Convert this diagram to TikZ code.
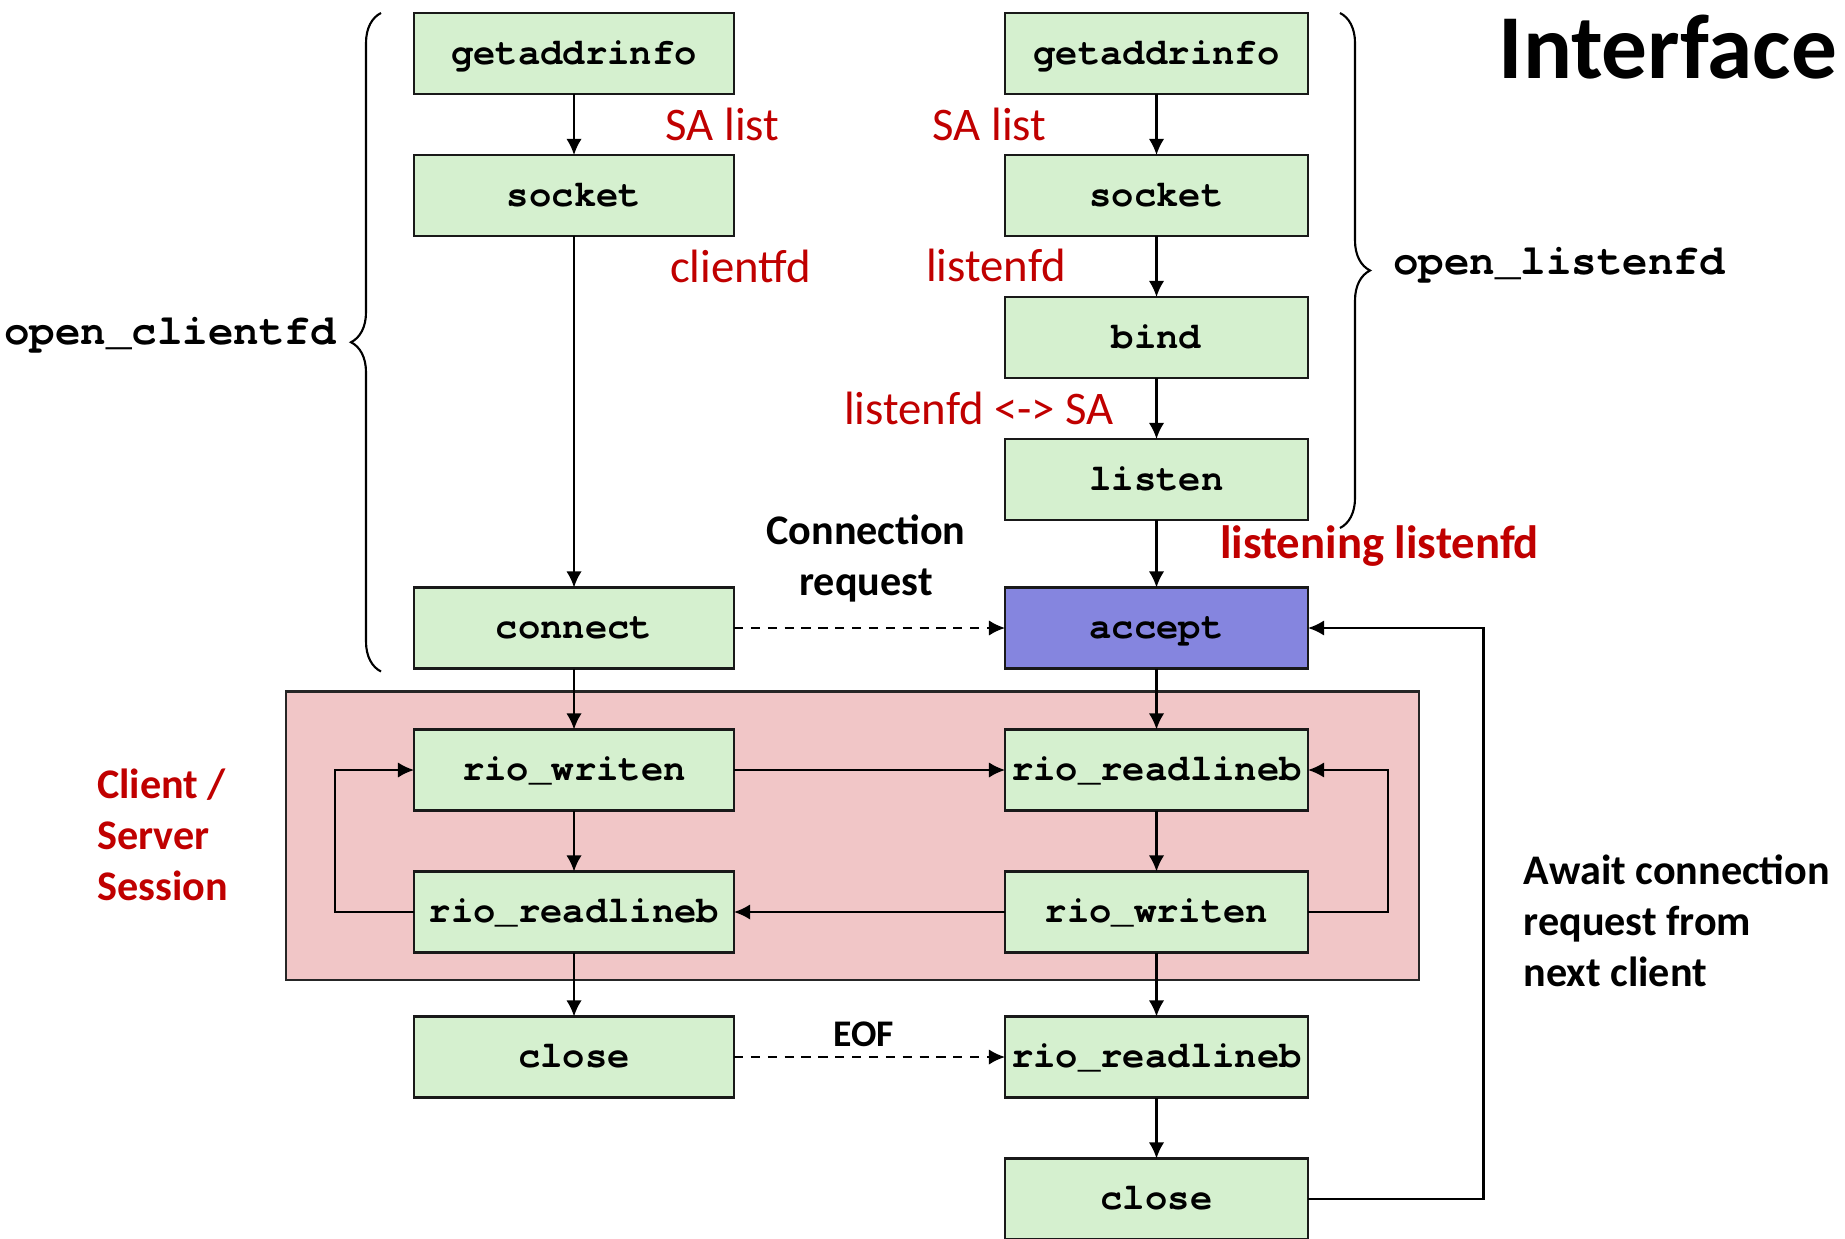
\documentclass[tikz,border=0pt]{standalone}
\usepackage{fontspec}
\setmainfont{Carlito}
\newfontfamily\codefont{texgyrecursor-bold.otf}
\usetikzlibrary{positioning,arrows.meta,decorations.pathreplacing}
\definecolor{callgreen}{HTML}{D5F0CF}
\definecolor{sessionpink}{HTML}{F1C6C7}
\definecolor{acceptblue}{HTML}{8585DF}
\definecolor{fdred}{HTML}{C00000}

\begin{document}
\begin{tikzpicture}[
  call/.style={draw=black!90,line width=0.8pt,fill=callgreen,minimum height=0.81cm,inner sep=0pt,outer sep=0pt,
    text height=0.8em,text depth=0.18em,font=\codefont\fontsize{10.6}{12}\selectfont},
  callC/.style={call,minimum width=3.20cm},
  callS/.style={call,minimum width=3.03cm},
  arr/.style={-{Latex[length=4.6pt,width=4.4pt]},line width=0.6pt},
  dasharr/.style={arr,dash pattern=on 2.6pt off 2.2pt},
  fdlabel/.style={text=fdred,inner sep=0pt,font=\fontsize{13.3}{16}\selectfont},
  note/.style={inner sep=0pt,align=left,font=\bfseries\fontsize{12}{14.5}\selectfont},
  fnbrace/.style={decorate,decoration={brace,amplitude=0.3cm},line width=0.6pt},
  fnname/.style={inner sep=0pt,font=\codefont\fontsize{12.1}{14}\selectfont},
  node distance=0.61cm
]
\useasboundingbox (0,0) rectangle (18.45,-12.39);

% session area
\path[draw=black!85,line width=0.7pt,fill=sessionpink] (2.86,-6.915) rectangle (14.19,-9.80);

% server
\node[callS] (gaiS) at (11.565,-0.535) {getaddrinfo};
\node[callS] (sockS) [below=of gaiS] {socket};
\node[callS] (bind) [below=of sockS] {bind};
\node[callS] (listen) [below=of bind] {listen};
\node[callS,fill=acceptblue] (accept) [below=0.675cm of listen] {accept};
\node[callS] (readS) [below=of accept] {rio\_readlineb};
\node[callS] (writeS) [below=of readS] {rio\_writen};
\node[callS] (eofS) [below=0.64cm of writeS] {rio\_readlineb};
\node[callS] (closeS) [below=of eofS] {close};

% client
\node[callC] (gaiC) [left=2.71cm of gaiS] {getaddrinfo};
\node[callC] (sockC) [left=2.71cm of sockS] {socket};
\node[callC] (connect) [left=2.71cm of accept] {connect};
\node[callC] (writeC) [left=2.71cm of readS] {rio\_writen};
\node[callC] (readC) [left=2.71cm of writeS] {rio\_readlineb};
\node[callC] (closeC) [left=2.71cm of eofS] {close};

\draw[arr] (gaiC) -- (sockC);
\draw[arr] (sockC) -- (connect);
\draw[arr] (connect) -- (writeC);
\draw[arr] (writeC) -- (readC);
\draw[arr] (readC) -- (closeC);

\draw[arr] (gaiS) -- (sockS);
\draw[arr] (sockS) -- (bind);
\draw[arr] (bind) -- (listen);
\draw[arr] (listen) -- (accept);
\draw[arr] (accept) -- (readS);
\draw[arr] (readS) -- (writeS);
\draw[arr] (writeS) -- (eofS);
\draw[arr] (eofS) -- (closeS);

\draw[dasharr] (connect) -- (accept);
\draw[arr] (writeC) -- (readS);
\draw[arr] (writeS) -- (readC);
\draw[dasharr] (closeC) -- (eofS);

% loops
\draw[arr] (readC.west) -- ++(-0.79,0) |- (writeC.west);
\draw[arr] (writeS.east) -- ++(0.80,0) |- (readS.east);
\draw[arr] (closeS.east) -- ++(1.755,0) |- (accept.east);

% braces
\draw[fnbrace] ([xshift=-0.33cm,yshift=-0.03cm]connect.south west) -- ([xshift=-0.33cm]gaiC.north west)
  node[midway,left=0.44cm,yshift=0.07cm,fnname] (openC) {open\_clientfd};
\draw[fnbrace] ([xshift=0.32cm]gaiS.north east) -- ([xshift=0.32cm,yshift=-0.08cm]listen.south east)
  node[midway,right=0.52cm,yshift=0.05cm,fnname] (openS) {open\_listenfd};

% labels
\node[fdlabel] (salistC) at (7.225,-1.24) {SA list};
\node[fdlabel] (salistS) at (9.895,-1.24) {SA list};
\node[fdlabel] (clientfd) at (7.405,-2.66) {clientfd};
\node[fdlabel] (listenfd) at (9.96,-2.65) {listenfd};
\node[fdlabel] (bound) at (9.79,-4.08) {listenfd <-> SA};
\node[fdlabel,font=\bfseries\fontsize{13.3}{16}\selectfont] (listening) at (13.795,-5.46) {listening listenfd};
\node[note,align=center] (connreq) at (8.66,-5.585) {Connection\\request};
\node[note,anchor=west] (await) at (15.23,-9.21) {Await connection\\request from\\next client};
\node[note,anchor=west,text=fdred] (session) at (0.965,-8.35) {Client /\\Server\\Session};
\node[note,font=\bfseries\fontsize{10.7}{13}\selectfont] (eof) at (8.64,-10.34) {EOF};
\node[inner sep=0pt,anchor=west,font=\bfseries\fontsize{26}{30}\selectfont] (title) at (14.98,-0.47) {Interface};
\end{tikzpicture}
\end{document}
